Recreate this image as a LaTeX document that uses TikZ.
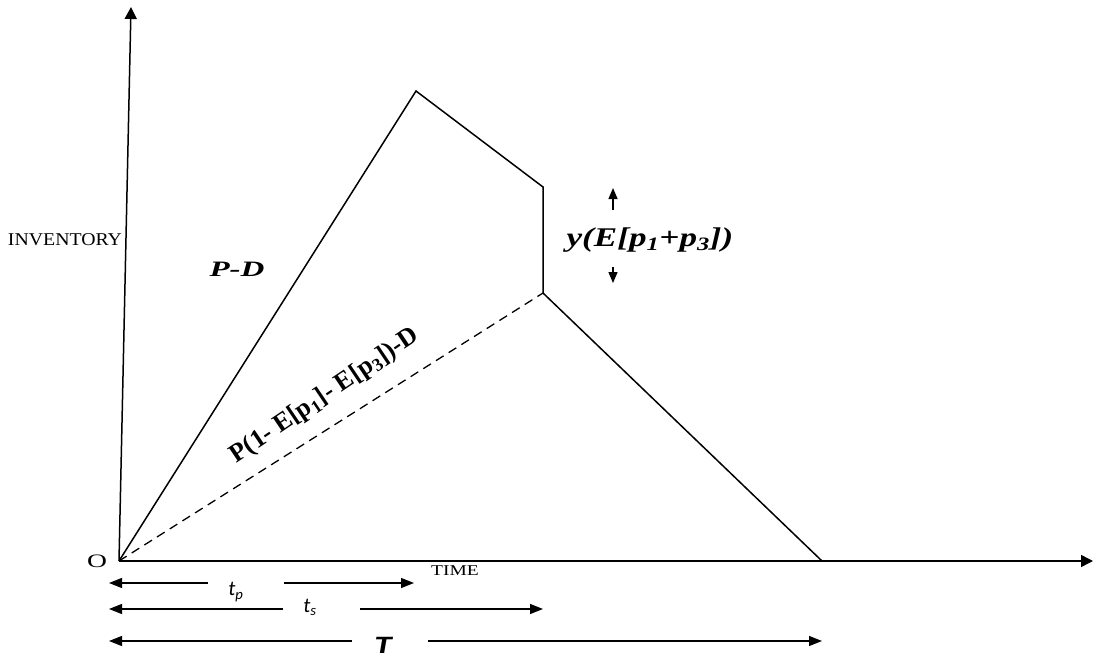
\documentclass[tikz,border=0pt]{standalone}
\usepackage{fontspec}
\setmainfont{Liberation Serif}
\newfontfamily\calib{Carlito}
\usetikzlibrary{arrows.meta}
\begin{document}
\begin{tikzpicture}[x=1pt,y=-1pt,
  curve/.style={line width=1.5pt,line join=miter},
  axisline/.style={line width=1.5pt,-{Triangle[length=12pt,width=12pt]}},
  dimleft/.style={line width=1.3pt,{Triangle[length=13pt,width=10pt]}-},
  dimright/.style={line width=1.3pt,-{Triangle[length=13pt,width=10pt]}},
  smallarrow/.style={line width=1.3pt,-{Triangle[length=11pt,width=9pt]}},
  lbl/.style={inner sep=0pt,anchor=center}]
\useasboundingbox (0,0) rectangle (1093,659);
% key points
\coordinate (O) at (119,561);
\coordinate (ytop) at (131,7);
\coordinate (xend) at (1093,561);
\coordinate (peak) at (416,91);
\coordinate (knee) at (543,187);
\coordinate (drop) at (543,293);
\coordinate (tend) at (822,561);
% axes
\draw[axisline] (O) -- (ytop);
\draw[axisline] (O) -- (xend);
% inventory curve
\draw[curve] (O) -- (peak) -- (knee) -- (drop) -- (tend);
\draw[line width=1.3pt,dash pattern=on 9pt off 6pt] (O) -- (drop);
% labels
\node[lbl,xscale=1.45] (Olbl) at (97,561) {\fontsize{19}{19}\selectfont O};
\node[lbl,xscale=1.1] (inv) at (65,240) {\fontsize{18}{18}\selectfont INVENTORY};
\node[lbl,xscale=1.3] (time) at (455,571) {\fontsize{15}{15}\selectfont TIME};
\node[lbl,xscale=1.5] (pd) at (237,269) {\fontsize{22}{22}\selectfont\bfseries\itshape P-D};
\node[lbl,xscale=1.3] (yE) at (650,240) {\fontsize{27}{27}\selectfont\bfseries\itshape y(E[p\textsubscript{1}+p\textsubscript{3}])};
\node[lbl,rotate=34] (eff) at (325,396) {\fontsize{26}{26}\selectfont\bfseries P(1- E[p\textsubscript{1}]- E[p\textsubscript{3}])-D};
% small arrows beside y label
\coordinate (upT) at (613,210);
\coordinate (upH) at (613,188);
\coordinate (dnT) at (613,267);
\coordinate (dnH) at (613,283);
\draw[smallarrow] (upT) -- (upH);
\draw[smallarrow] (dnT) -- (dnH);
% dimension lines
\node[lbl] (tp) at (236,592) {\fontsize{21}{21}\selectfont\calib\itshape t\textsubscript{p}};
\node[lbl] (ts) at (310,607) {\fontsize{21}{21}\selectfont\calib\itshape t\textsubscript{s}};
\node[lbl,xscale=1.4] (T) at (383,645) {\fontsize{25}{25}\selectfont\calib\bfseries\itshape T};
\coordinate (tpA) at (109,583); \coordinate (tpB) at (208,583);
\coordinate (tpC) at (284,583); \coordinate (tpD) at (414,583);
\coordinate (tsA) at (109,609); \coordinate (tsB) at (283,609);
\coordinate (tsC) at (360,609); \coordinate (tsD) at (543,609);
\coordinate (TA) at (109,641); \coordinate (TB) at (352,641);
\coordinate (TC) at (428,641); \coordinate (TD) at (822,641);
\draw[dimleft] (tpA) -- (tpB);
\draw[dimright] (tpC) -- (tpD);
\draw[dimleft] (tsA) -- (tsB);
\draw[dimright] (tsC) -- (tsD);
\draw[dimleft] (TA) -- (TB);
\draw[dimright] (TC) -- (TD);
\end{tikzpicture}
\end{document}
